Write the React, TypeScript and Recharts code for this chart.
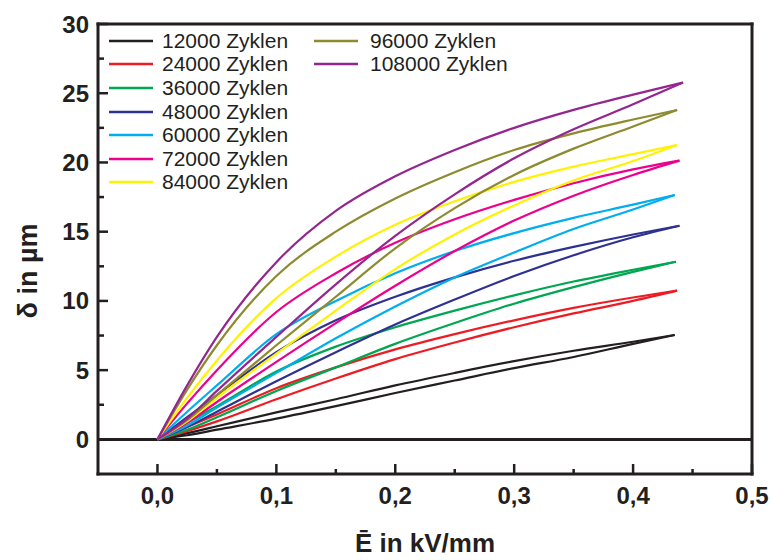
import React from 'react';
import { LineChart, Line, XAxis, YAxis, ReferenceLine, Legend } from 'recharts';

// cycle counts shown in the legend
const seriesNames = [
  '12000 Zyklen', '24000 Zyklen', '36000 Zyklen', '48000 Zyklen', '60000 Zyklen',
  '72000 Zyklen', '84000 Zyklen', '96000 Zyklen', '108000 Zyklen',
];
const seriesColors = [
  '#231f20', '#ed1c24', '#00a651', '#2e3192', '#00aeef',
  '#ec008c', '#fff200', '#8d8b2f', '#93278f',
];

// field values (kV/mm) where the branches were read
const branchX = [0, 0.025, 0.05, 0.1, 0.15, 0.2, 0.25, 0.3, 0.35, 0.4];

// turning point of each loop
const endX = [0.435, 0.437, 0.436, 0.439, 0.435, 0.439, 0.437, 0.437, 0.442];
const endY = [7.54, 10.74, 12.83, 15.43, 17.65, 20.13, 21.26, 23.79, 25.77];

// descending (upper) branch, µm
const upper12k = [0, 0.45, 0.95, 1.95, 2.9, 3.9, 4.8, 5.65, 6.4, 7.05];
const upper24k = [0, 0.9, 1.8, 3.7, 5.2, 6.5, 7.6, 8.6, 9.5, 10.25];
const upper36k = [0, 1.2, 2.4, 4.9, 6.7, 8.1, 9.3, 10.4, 11.4, 12.25];
const upper48k = [0, 1.6, 3.2, 6.3, 8.6, 10.3, 11.7, 12.9, 13.9, 14.8];
const upper60k = [0, 2.0, 3.9, 7.6, 10.0, 12.0, 13.6, 14.9, 16.0, 16.95];
const upper72k = [0, 2.6, 5.0, 9.2, 12.0, 14.2, 15.9, 17.3, 18.5, 19.5];
const upper84k = [0, 3.0, 5.7, 10.2, 13.2, 15.5, 17.2, 18.6, 19.7, 20.6];
const upper96k = [0, 3.6, 6.8, 11.8, 15.0, 17.4, 19.3, 20.9, 22.1, 23.1];
const upper108k = [0, 3.9, 7.4, 12.8, 16.5, 19.0, 20.9, 22.5, 23.8, 24.9];

// ascending (lower) branch, µm
const lower12k = [0, 0.3, 0.7, 1.5, 2.4, 3.35, 4.25, 5.15, 5.95, 6.9];
const lower24k = [0, 0.6, 1.3, 2.9, 4.4, 5.8, 7.0, 8.1, 9.1, 10.0];
const lower36k = [0, 0.7, 1.6, 3.5, 5.2, 6.9, 8.4, 9.8, 11.0, 12.1];
const lower48k = [0, 0.9, 2.0, 4.2, 6.3, 8.3, 10.1, 11.8, 13.3, 14.6];
const lower60k = [0, 1.0, 2.3, 4.8, 7.3, 9.6, 11.7, 13.5, 15.2, 16.6];
const lower72k = [0, 1.2, 2.7, 5.6, 8.4, 11.1, 13.6, 15.8, 17.6, 19.1];
const lower84k = [0, 1.3, 3.0, 6.2, 9.3, 12.3, 14.8, 16.9, 18.7, 20.1];
const lower96k = [0, 1.4, 3.2, 6.8, 10.3, 13.8, 16.7, 19.1, 21.0, 22.6];
const lower108k = [0, 1.5, 3.5, 7.4, 11.2, 14.7, 17.7, 20.3, 22.4, 24.2];

const upperBranches = [upper12k, upper24k, upper36k, upper48k, upper60k, upper72k, upper84k, upper96k, upper108k];
const lowerBranches = [lower12k, lower24k, lower36k, lower48k, lower60k, lower72k, lower84k, lower96k, lower108k];

// axis ticks
const xMajorTicks = [0, 0.1, 0.2, 0.3, 0.4, 0.5];
const xMinorTicks = [0.05, 0.15, 0.25, 0.35, 0.45];
const yMajorTicks = [0, 5, 10, 15, 20, 25, 30];
const yMinorTicks = [2.5, 7.5, 12.5, 17.5, 22.5, 27.5];

const FONT = '"Liberation Sans", Arial, Helvetica, sans-serif';
const INK = '#231f20';

const isMajor = (list: number[], v: number) => list.some((m) => Math.abs(m - v) < 1e-9);
const fmtX = (v: number) => v.toFixed(1).replace('.', ',');

const toPoints = (vals: number[], i: number) => [
  ...branchX.map((x, k) => ({ x, y: vals[k] })),
  { x: endX[i], y: endY[i] },
];

const XTick = (props: any) => {
  const { x, y, payload, side } = props;
  const major = isMajor(xMajorTicks, payload.value);
  const len = major ? 10 : 5;
  const dir = side === 'top' ? 1 : -1;
  return (
    <g>
      <line x1={x} y1={y} x2={x} y2={y + dir * len} stroke={INK} strokeWidth={2.5} />
      {side === 'bottom' && major && (
        <text x={x} y={y + 30} textAnchor="middle" fontFamily={FONT} fontWeight="bold" fontSize={24} fill={INK}>
          {fmtX(payload.value)}
        </text>
      )}
    </g>
  );
};

const YTick = (props: any) => {
  const { x, y, payload, side } = props;
  const major = isMajor(yMajorTicks, payload.value);
  const len = major ? 10 : 6;
  const dir = side === 'left' ? 1 : -1;
  return (
    <g>
      <line x1={x} y1={y} x2={x + dir * len} y2={y} stroke={INK} strokeWidth={2.5} />
      {side === 'left' && major && (
        <text x={x - 9} y={y + 8.5} textAnchor="end" fontFamily={FONT} fontWeight="bold" fontSize={24} fill={INK}>
          {payload.value}
        </text>
      )}
    </g>
  );
};

const XTitle = () => (
  <text x={425} y={552} textAnchor="middle" fontFamily={FONT} fontWeight="bold" fontSize={26} fill={INK}>
    Ē in kV/mm
  </text>
);

const YTitle = () => (
  <text transform="translate(37,271) rotate(-90)" textAnchor="middle" fontFamily={FONT} fontWeight="bold" fontSize={27} fill={INK}>
    δ in µm
  </text>
);

const LegendBox = () => {
  const items = seriesNames.map((name, i) => ({ name, color: seriesColors[i] }));
  const cols = [items.slice(0, 7), items.slice(7)];
  return (
    <div style={{ display: 'flex', fontFamily: FONT, fontSize: 21, color: INK }}>
      {cols.map((col, c) => (
        <div key={c} style={{ width: c === 0 ? 205 : 'auto' }}>
          {col.map((it) => (
            <div key={it.name} style={{ display: 'flex', alignItems: 'center', height: 23.6, whiteSpace: 'nowrap' }}>
              <svg width={44} height={4} style={{ marginRight: c === 0 ? 9 : 12 }}>
                <line x1={0} y1={2} x2={44} y2={2} stroke={it.color} strokeWidth={2.5} />
              </svg>
              <span>{it.name}</span>
            </div>
          ))}
        </div>
      ))}
    </div>
  );
};

const App = () => {
  const axisLine = { stroke: INK, strokeWidth: 3, strokeLinecap: 'square' as const };
  const xTicks = [...xMajorTicks, ...xMinorTicks].sort((a, b) => a - b);
  const yTicks = [...yMajorTicks, ...yMinorTicks].sort((a, b) => a - b);
  return (
    <div style={{ position: 'absolute', left: 0, top: 0, width: 771, height: 560, background: '#fff', fontFamily: FONT }}>
      <LineChart width={771} height={560} margin={{ top: 4, right: 4, left: 0, bottom: 0 }}>
        <XAxis
          dataKey="x" type="number" domain={[-0.05, 0.5]} allowDataOverflow ticks={xTicks} interval={0}
          height={86} tickSize={0} tickMargin={0} tickLine={false} axisLine={axisLine}
          tick={<XTick side="bottom" />} label={<XTitle />}
        />
        <XAxis
          xAxisId="top" orientation="top" type="number" domain={[-0.05, 0.5]} ticks={xTicks} interval={0}
          height={20} tickSize={0} tickMargin={0} tickLine={false} axisLine={axisLine}
          tick={<XTick side="top" />}
        />
        <YAxis
          type="number" domain={[-2.5, 30]} allowDataOverflow ticks={yTicks} interval={0}
          width={98} tickSize={0} tickMargin={0} tickLine={false} axisLine={axisLine}
          tick={<YTick side="left" />} label={<YTitle />}
        />
        <YAxis
          yAxisId="right" orientation="right" type="number" domain={[-2.5, 30]} ticks={yTicks} interval={0}
          width={15} tickSize={0} tickMargin={0} tickLine={false} axisLine={axisLine}
          tick={<YTick side="right" />}
        />
        <ReferenceLine y={0} stroke={INK} strokeWidth={3} />
        {seriesNames.map((name, i) => (
          <Line
            key={`${name}-up`} data={toPoints(upperBranches[i], i)} dataKey="y" type="monotone"
            stroke={seriesColors[i]} strokeWidth={2.2} dot={false} activeDot={false}
            isAnimationActive={false} legendType="none"
          />
        ))}
        {seriesNames.map((name, i) => (
          <Line
            key={`${name}-down`} data={toPoints(lowerBranches[i], i)} dataKey="y" type="monotone"
            stroke={seriesColors[i]} strokeWidth={2.2} dot={false} activeDot={false}
            isAnimationActive={false} legendType="none"
          />
        ))}
        <Legend
          layout="horizontal" verticalAlign="middle" align="center" content={<LegendBox />}
          wrapperStyle={{ position: 'absolute', left: 109, top: 29, width: 'auto', height: 'auto' }}
        />
      </LineChart>
    </div>
  );
};

export default App;
